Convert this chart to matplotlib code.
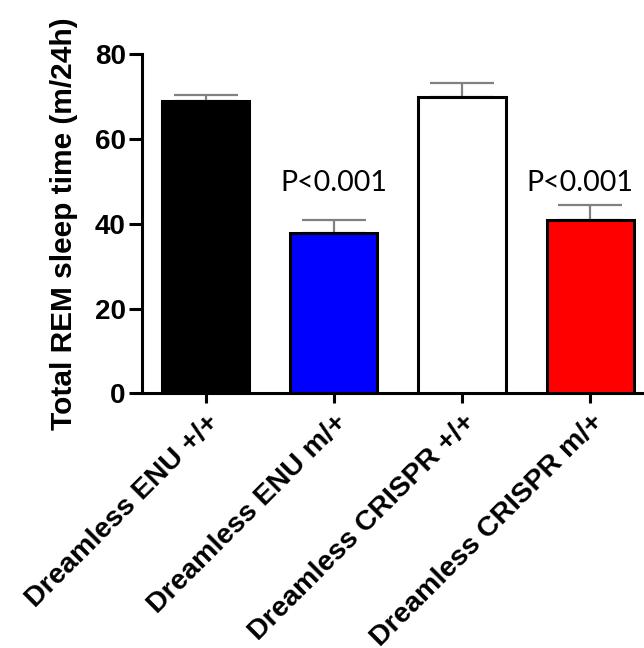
import matplotlib
matplotlib.use("Agg")
import matplotlib.pyplot as plt

categories = ["Dreamless ENU +/+", "Dreamless ENU m/+", "Dreamless CRISPR +/+", "Dreamless CRISPR m/+"]
means = [68.9, 37.7, 69.8, 40.9]
sems = [1.4, 3.2, 3.4, 3.5]
colors = ["#000000", "#0000ff", "#ffffff", "#ff0000"]
pvals = ["", "P<0.001", "", "P<0.001"]
yticks = [0, 20, 40, 60, 80]

plt.rcParams['font.family'] = ['Liberation Sans', 'DejaVu Sans']

fig = plt.figure(figsize=(6.44, 6.48), dpi=100)
ax = fig.add_axes([0.22, 0.393, 0.78, 0.5236])

x = list(range(len(categories)))
ax.bar(x, means, width=0.68, color=colors, edgecolor="black", linewidth=2.2, zorder=3)
ax.errorbar(x, means, yerr=[[0] * len(sems), sems], fmt="none", ecolor="#808080",
            elinewidth=1.6, capsize=22.8, capthick=1.6, zorder=2)

for xi, m, s, p in zip(x, means, sems, pvals):
    if p:
        ax.text(xi - (0.08 if xi == 3 else 0), 49.7, p, ha="center", va="center",
                fontsize=20.5, family=["Lato", "DejaVu Sans"])

ax.set_xlim(-0.5, 3.42)
ax.set_ylim(0, 80)
ax.set_yticks(yticks)
ax.set_yticklabels([str(t) for t in yticks], fontsize=20, fontweight="bold")
ax.set_xticks(x)
ax.set_xticklabels(categories, rotation=45, ha="right", rotation_mode="anchor",
                   fontsize=20.5, fontweight="bold")
ax.set_ylabel("Total REM sleep time (m/24h)", fontsize=21.5, fontweight="bold", labelpad=12)

for side in ["top", "right"]:
    ax.spines[side].set_visible(False)
for side in ["left", "bottom"]:
    ax.spines[side].set_linewidth(2.2)
ax.spines["bottom"].set_bounds(-0.5, 3.42)
ax.tick_params(axis="y", length=9.5, width=2.2, pad=2)
ax.tick_params(axis="x", length=7.5, width=2.2, pad=4)

fig.savefig("out.png", dpi=100)
